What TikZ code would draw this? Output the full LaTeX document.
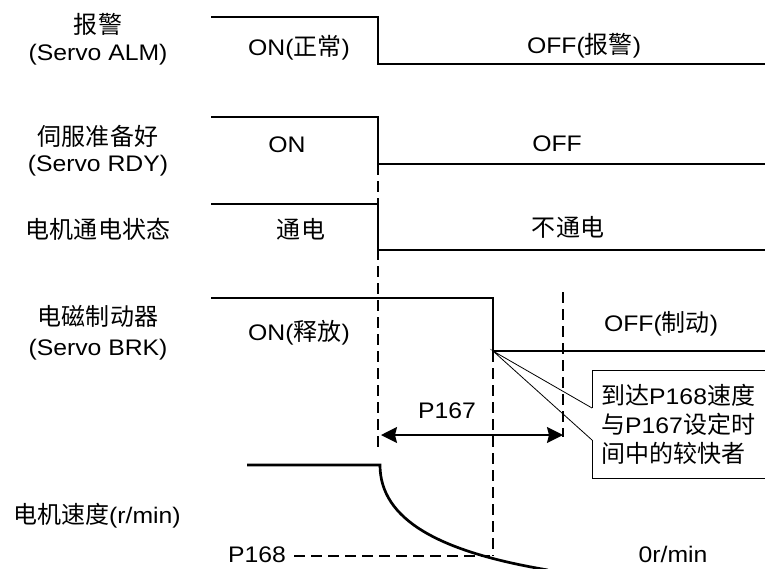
\documentclass[tikz,border=0pt]{standalone}
\usepackage{fontspec}
\setmainfont[FakeStretch=1.1]{Liberation Sans}
\newfontfamily\cjk[Scale=1.067]{Noto Sans CJK SC}
\usetikzlibrary{arrows.meta}
\newcommand\zh[1]{{\cjk #1}}
\begin{document}
\begin{tikzpicture}[x=1pt,y=-1pt,
  wave/.style={line width=2.7pt, line join=miter},
  guide/.style={line width=1.3pt, dash pattern=on 11pt off 6pt},
  thinl/.style={line width=0.8pt},
  lbl/.style={inner sep=0pt, text height=16pt, text depth=0pt, font=\fontsize{22.5}{27}\selectfont},
  dimarrow/.style={line width=1.9pt, {Stealth[length=16pt,width=16pt,inset=2pt]}-{Stealth[length=16pt,width=16pt,inset=2pt]}}]
\useasboundingbox (0,0) rectangle (765,568);

% left labels
\node[lbl] (almz) at (98,25) {\zh{报警}};
\node[lbl] (alme) at (98,52) {(Servo ALM)};
\node[lbl] (rdyz) at (98,137) {\zh{伺服准备好}};
\node[lbl] (rdye) at (98,163) {(Servo RDY)};
\node[lbl] (pwrz) at (98,230) {\zh{电机通电状态}};
\node[lbl] (brkz) at (98,317) {\zh{电磁制动器}};
\node[lbl] (brke) at (98,347) {(Servo BRK)};
\node[lbl, anchor=west] (spdz) at (13,515) {\zh{电机速度}(r/min)};

% state labels
\node[lbl] (almon) at (299,47) {ON(\zh{正常})};
\node[lbl] (almoff) at (584,45) {OFF(\zh{报警})};
\node[lbl] (rdyon) at (287,144) {ON};
\node[lbl] (rdyoff) at (557,143) {OFF};
\node[lbl] (pwron) at (301,230) {\zh{通电}};
\node[lbl] (pwroff) at (568,228) {\zh{不通电}};
\node[lbl] (brkon) at (299,332) {ON(\zh{释放})};
\node[lbl] (brkoff) at (661,323) {OFF(\zh{制动})};
\node[lbl] (p167) at (447,410) {P167};
\node[lbl] (p168) at (257,554) {P168};
\node[lbl] (zero) at (673,554) {0r/min};

% guides
\coordinate (g1t) at (378,164); \coordinate (g1b) at (378,450);
\coordinate (g2t) at (493,351); \coordinate (g2b) at (493,556);
\coordinate (g3t) at (563,292); \coordinate (g3b) at (563,437);
\draw[guide] (g1t) -- (g1b);
\draw[guide] (g2t) -- (g2b);
\draw[guide] (g3t) -- (g3b);
\coordinate (p168e) at (490,556);
\draw[guide] ([xshift=8pt,yshift=-2pt]p168.east) -- (p168e);

% waveforms
\coordinate (a0) at (211,17); \coordinate (a1) at (378,17); \coordinate (a2) at (378,64); \coordinate (a3) at (765,64);
\draw[wave] (a0) -- (a1) -- (a2) -- (a3);
\coordinate (r0) at (211,117); \coordinate (r1) at (378,117); \coordinate (r2) at (378,164); \coordinate (r3) at (765,164);
\draw[wave] (r0) -- (r1) -- (r2) -- (r3);
\coordinate (m0) at (211,204); \coordinate (m1) at (378,204); \coordinate (m2) at (378,250); \coordinate (m3) at (765,250);
\draw[wave] (m0) -- (m1) -- (m2) -- (m3);
\coordinate (b0) at (211,298); \coordinate (b1) at (493,298); \coordinate (b2) at (493,351); \coordinate (b3) at (765,351);
\draw[wave] (b0) -- (b1) -- (b2) -- (b3);
\coordinate (s0) at (247,465); \coordinate (s1) at (380,465); \coordinate (s2) at (548,570);
\draw[wave] (s0) -- (s1) .. controls (380,520) and (440,552) .. (s2);

% dimension arrow
\coordinate (d0) at (381,435); \coordinate (d1) at (563,435);
\draw[dimarrow] (d0) -- (d1);

% callout
\coordinate (c1) at (592,408); \coordinate (c2) at (592,370); \coordinate (c3) at (767,370);
\coordinate (c4) at (767,478); \coordinate (c5) at (592,478); \coordinate (c6) at (592,440);
\draw[thinl] (c1) -- (b2) -- (c6);
\draw[line width=1pt] (c1) -- (c2) -- (c3) -- (c4) -- (c5) -- (c6);
\node[lbl, anchor=west] (cl1) at (601,396) {\zh{到达}P168\zh{速度}};
\node[lbl, anchor=west] (cl2) at (601,425) {\zh{与}P167\zh{设定时}};
\node[lbl, anchor=west] (cl3) at (601,454) {\zh{间中的较快者}};
\end{tikzpicture}
\end{document}
